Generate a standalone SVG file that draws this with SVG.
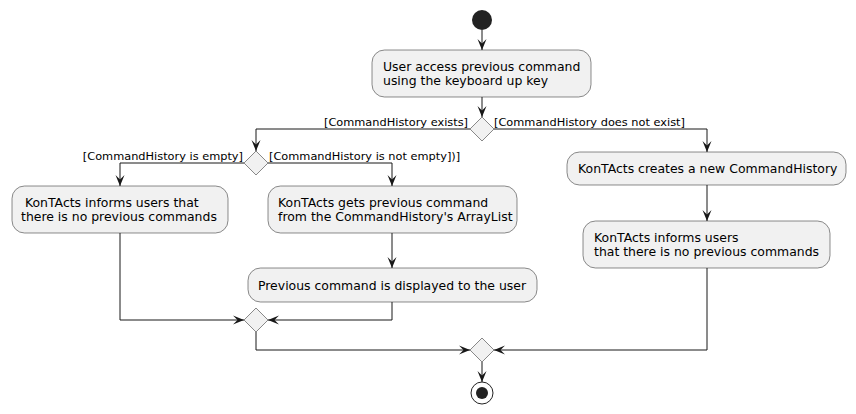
<svg xmlns="http://www.w3.org/2000/svg" width="856" height="414" viewBox="0 0 856 414">
<defs>
<style>
.act{fill:#F1F1F1;stroke:#181818;stroke-width:0.5}
.dia{fill:#F1F1F1;stroke:#181818;stroke-width:0.5}
.t{font-family:"DejaVu Sans",sans-serif;font-size:12.45px;fill:#000}
.l{font-family:"DejaVu Sans",sans-serif;font-size:11.35px;fill:#000}
.c{fill:none;stroke:#181818;stroke-width:1}
</style>
<marker id="ah" viewBox="0 0 11 10" refX="11" refY="5" markerWidth="11" markerHeight="10" markerUnits="userSpaceOnUse" orient="auto">
<path d="M0,0.5 L11,5 L0,9.5 L4.5,5 Z" fill="#181818"/>
</marker>
</defs>
<rect width="856" height="414" fill="#FFFFFF"/>
<g id="start"><circle cx="482" cy="20" r="10" fill="#222222"/></g>
<g id="n1"><rect class="act" x="372" y="50" width="219" height="47" rx="12.5"/>
<text class="t" x="383" y="71">User access previous command</text>
<text class="t" x="383" y="85">using the keyboard up key</text></g>
<g id="d1"><polygon class="dia" points="470,129 482,117 494,129 482,141"/></g>
<g id="d2"><polygon class="dia" points="244,163 256,151 268,163 256,175"/></g>
<g id="n2"><rect class="act" x="12" y="186" width="216" height="47" rx="12.5"/>
<text class="t" x="21" y="207" xml:space="preserve"> KonTActs informs users that</text>
<text class="t" x="21" y="221">there is no previous commands</text></g>
<g id="n3"><rect class="act" x="268" y="186" width="249" height="47" rx="12.5"/>
<text class="t" x="278" y="207">KonTActs gets previous command</text>
<text class="t" x="278" y="221">from the CommandHistory's ArrayList</text></g>
<g id="n4"><rect class="act" x="248" y="268" width="289" height="34" rx="12.5"/>
<text class="t" x="258" y="290">Previous command is displayed to the user</text></g>
<g id="d3"><polygon class="dia" points="244,320 256,308 268,320 256,332"/></g>
<g id="n5"><rect class="act" x="567" y="152" width="279" height="33" rx="12.5"/>
<text class="t" x="578" y="173">KonTActs creates a new CommandHistory</text></g>
<g id="n6"><rect class="act" x="583" y="221" width="247" height="47" rx="12.5"/>
<text class="t" x="594" y="242">KonTActs informs users</text>
<text class="t" x="594" y="256">that there is no previous commands</text></g>
<g id="d4"><polygon class="dia" points="470,350 482,338 494,350 482,362"/></g>
<g id="end"><circle cx="482" cy="393" r="11" fill="none" stroke="#222222" stroke-width="1"/><circle cx="482" cy="393" r="6" fill="#222222"/></g>
<g id="connectors">
<path class="c" d="M482,30 L482,50" marker-end="url(#ah)"/>
<path class="c" d="M482,97 L482,117" marker-end="url(#ah)"/>
<path class="c" d="M470,129 L256,129 L256,151" marker-end="url(#ah)"/>
<path class="c" d="M494,129 L707,129 L707,152" marker-end="url(#ah)"/>
<path class="c" d="M244,163 L120,163 L120,186" marker-end="url(#ah)"/>
<path class="c" d="M268,163 L392,163 L392,186" marker-end="url(#ah)"/>
<path class="c" d="M392,233 L392,268" marker-end="url(#ah)"/>
<path class="c" d="M120,233 L120,320 L244,320" marker-end="url(#ah)"/>
<path class="c" d="M392,302 L392,320 L268,320" marker-end="url(#ah)"/>
<path class="c" d="M707,185 L707,221" marker-end="url(#ah)"/>
<path class="c" d="M256,332 L256,350 L470,350" marker-end="url(#ah)"/>
<path class="c" d="M707,268 L707,350 L494,350" marker-end="url(#ah)"/>
<path class="c" d="M482,362 L482,382" marker-end="url(#ah)"/>
<text class="l" x="468" y="126" text-anchor="end">[CommandHistory exists]</text>
<text class="l" x="494" y="126">[CommandHistory does not exist]</text>
<text class="l" x="243" y="160" text-anchor="end">[CommandHistory is empty]</text>
<text class="l" x="269" y="160">[CommandHistory is not empty])]</text>
</g>
</svg>
